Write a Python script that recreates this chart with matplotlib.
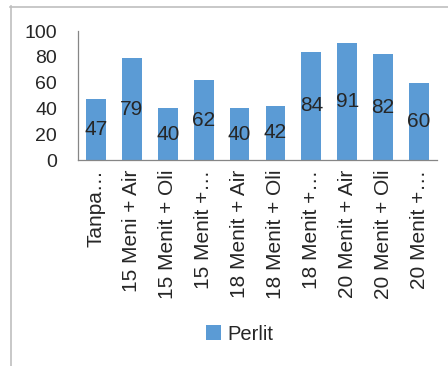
import matplotlib
matplotlib.use("Agg")
import matplotlib.pyplot as plt
from matplotlib.lines import Line2D

BLUE = "#5B9BD5"
AXIS = "#868686"
TXT = "#262626"

categories = ["Tanpa…", "15 Meni + Air", "15 Menit + Oli", "15 Menit +…",
              "18 Menit + Air", "18 Menit + Oli", "18 Menit +…",
              "20 Menit + Air", "20 Menit + Oli", "20 Menit +…"]
perlit = [47, 79, 40, 62, 40, 42, 84, 91, 82, 60]
yticks = [0, 20, 40, 60, 80, 100]

plt.rcParams["font.family"] = ["Liberation Sans", "DejaVu Sans"]

W, H = 448, 366
fig = plt.figure(figsize=(W / 100, H / 100), dpi=100)
ax = fig.add_axes([78 / W, 1 - 160 / H, (437 - 78) / W, (160 - 31) / H])

x = range(len(categories))
bars = ax.bar(x, perlit, width=0.55, color=BLUE, label="Perlit", zorder=2)
for b, v in zip(bars, perlit):
    ax.text(b.get_x() + b.get_width() / 2, v / 2, str(v), ha="center",
            va="center", fontsize=15, color=TXT, zorder=3)

ax.set_xlim(-0.5, len(categories) - 0.5)
ax.set_ylim(0, 100)
ax.set_yticks(yticks)
ax.set_xticks(list(x))
ax.set_xticklabels(categories, rotation=90, fontsize=15, color=TXT)
ax.tick_params(axis="y", length=0, pad=15, labelsize=14, labelcolor=TXT)
ax.tick_params(axis="x", length=0, pad=7)
for s in ("top", "right"):
    ax.spines[s].set_visible(False)
for s in ("left", "bottom"):
    ax.spines[s].set_color(AXIS)
    ax.spines[s].set_linewidth(0.9)

fig.legend(handles=[bars], labels=["Perlit"], loc="center",
           bbox_to_anchor=(240 / W, 1 - 334 / H), frameon=False,
           fontsize=14.5, handlelength=0.7, handleheight=0.7,
           handletextpad=0.35, labelcolor=TXT)

# outer chart-area border
fig.add_artist(Line2D([10 / W, 1], [1 - 6.5 / H, 1 - 6.5 / H],
                      transform=fig.transFigure, color="#BFBFBF", lw=1.2))
fig.add_artist(Line2D([10.5 / W, 10.5 / W], [0, 1 - 6 / H],
                      transform=fig.transFigure, color="#BFBFBF", lw=1.2))

fig.savefig("out.png", facecolor="white")
